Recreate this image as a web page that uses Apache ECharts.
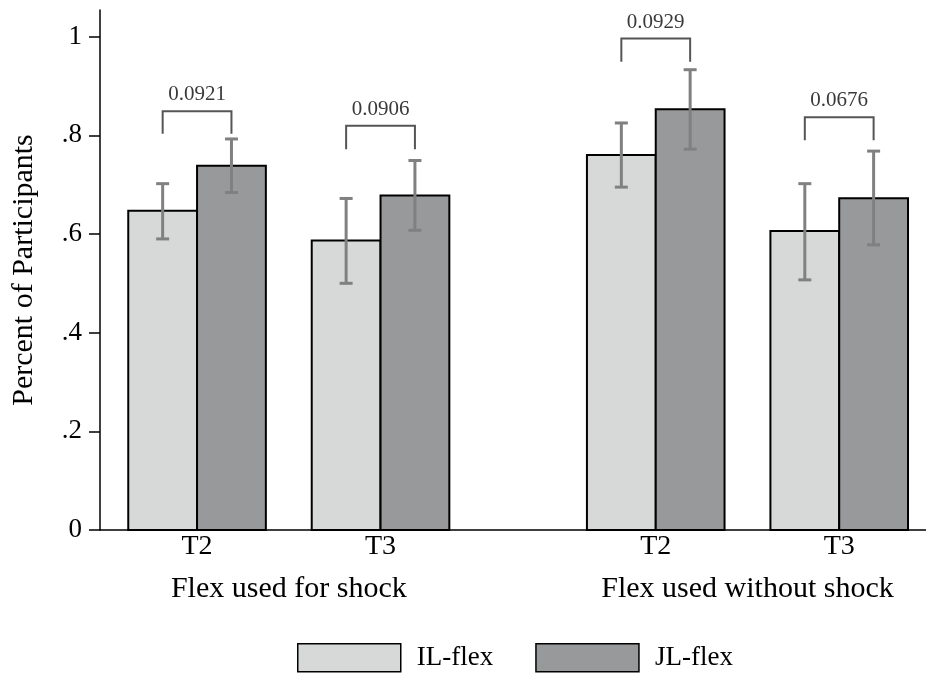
<!DOCTYPE html>
<html>
<head>
<meta charset="utf-8">
<script src="https://cdn.jsdelivr.net/npm/echarts@6/dist/echarts.min.js"></script>
<style>html,body{margin:0;padding:0;background:#fff;}#c{width:926px;height:673px;}</style>
</head>
<body>
<div id="c"></div>
<script>
// ---- data ----
var categories = ['T2', 'T3', 'T2', 'T3'];
var categoryPos = [0, 1, 2.5, 3.5];
var groups = ['Flex used for shock', 'Flex used without shock'];
var groupPos = [0.5, 3];
var seriesNames = ['IL-flex', 'JL-flex'];
var ilValues = [0.647, 0.587, 0.760, 0.606];
var jlValues = [0.7385, 0.678, 0.853, 0.6724];
var ilLow = [0.590, 0.500, 0.695, 0.507];
var ilHigh = [0.702, 0.672, 0.825, 0.702];
var jlLow = [0.684, 0.6075, 0.772, 0.578];
var jlHigh = [0.7926, 0.749, 0.933, 0.768];
var bracketTop = [0.849, 0.8196, 0.996, 0.8365];
var bracketBottom = [0.803, 0.772, 0.949, 0.790];
var bracketLabels = ['0.0921', '0.0906', '0.0929', '0.0676'];
var yTicks = [0, 0.2, 0.4, 0.6, 0.8, 1];
var yTickLabels = ['0', '.2', '.4', '.6', '.8', '1'];

var FONT = "'Liberation Serif', 'Times New Roman', serif";
var BW = 0.375;          // bar width in axis units
var OFF = BW / 2;        // bar centre offset from category
var IL_COLOR = '#d7d8d8';
var JL_COLOR = '#98999b';
var ERR_COLOR = '#808080';

function barRender(offset, fill) {
  return function (params, api) {
    var x = api.value(0) + offset;
    var y = api.value(1);
    var p0 = api.coord([x - BW / 2, y]);
    var p1 = api.coord([x + BW / 2, 0]);
    return {
      type: 'rect',
      shape: { x: p0[0], y: p0[1], width: p1[0] - p0[0], height: p1[1] - p0[1] },
      style: { fill: fill, stroke: '#000', lineWidth: 2 }
    };
  };
}

function errRender(params, api) {
  var x = api.value(0);
  var lo = api.coord([x, api.value(1)]);
  var hi = api.coord([x, api.value(2)]);
  var cap = 6.5;
  var st = { stroke: ERR_COLOR, lineWidth: 3 };
  return {
    type: 'group',
    children: [
      { type: 'line', shape: { x1: lo[0], y1: lo[1], x2: hi[0], y2: hi[1] }, style: st },
      { type: 'line', shape: { x1: lo[0] - cap, y1: lo[1], x2: lo[0] + cap, y2: lo[1] }, style: st },
      { type: 'line', shape: { x1: hi[0] - cap, y1: hi[1], x2: hi[0] + cap, y2: hi[1] }, style: st }
    ]
  };
}

function bracketRender(params, api) {
  var c = api.value(0);
  var top = api.value(1);
  var bot = api.value(2);
  var a = api.coord([c - OFF, top]);
  var b = api.coord([c + OFF, top]);
  var a2 = api.coord([c - OFF, bot]);
  var b2 = api.coord([c + OFF, bot]);
  var st = { stroke: '#555555', lineWidth: 2, fill: null };
  return {
    type: 'group',
    children: [
      { type: 'polyline', shape: { points: [[a2[0], a2[1]], [a[0], a[1]], [b[0], b[1]], [b2[0], b2[1]]] }, style: st },
      { type: 'text', x: (a[0] + b[0]) / 2, y: a[1] - 6,
        style: { text: bracketLabels[params.dataIndex], fill: '#3a3a3a', font: '21px ' + FONT, align: 'center', verticalAlign: 'bottom' } }
    ]
  };
}

var ilData = categoryPos.map(function (x, i) { return [x, ilValues[i]]; });
var jlData = categoryPos.map(function (x, i) { return [x, jlValues[i]]; });
var errData = [];
categoryPos.forEach(function (x, i) {
  errData.push([x - OFF, ilLow[i], ilHigh[i]]);
  errData.push([x + OFF, jlLow[i], jlHigh[i]]);
});
var bracketData = categoryPos.map(function (x, i) { return [x, bracketTop[i], bracketBottom[i]]; });

var chart = echarts.init(document.getElementById('c'), null, { renderer: 'canvas' });
chart.setOption({
  animation: false,
  backgroundColor: '#fff',
  grid: { left: 100, right: 0, top: 10, bottom: 143, containLabel: false, outerBoundsMode: 'none' },
  xAxis: [
    {
      type: 'value', min: -0.529, max: 3.973,
      splitLine: { show: false },
      axisLine: { show: true, onZero: false, lineStyle: { color: '#000', width: 1.5 } },
      axisTick: { show: false },
      axisLabel: {
        customValues: categoryPos,
        formatter: function (v) { var i = categoryPos.indexOf(v); return i >= 0 ? categories[i] : ''; },
        fontFamily: FONT, fontSize: 28, color: '#000', margin: 3
      }
    },
    {
      type: 'value', min: -0.529, max: 3.973, position: 'bottom',
      splitLine: { show: false },
      axisLine: { show: false, onZero: false },
      axisTick: { show: false },
      axisLabel: {
        customValues: groupPos,
        formatter: function (v) { var i = groupPos.indexOf(v); return i >= 0 ? groups[i] : ''; },
        fontFamily: FONT, fontSize: 30, color: '#000', margin: 44
      }
    }
  ],
  yAxis: {
    type: 'value', min: 0, max: 1.054,
    name: 'Percent of Participants', nameLocation: 'middle', nameRotate: 90, nameGap: 61,
    nameTextStyle: { fontFamily: FONT, fontSize: 30, color: '#000' },
    splitLine: { show: false },
    axisLine: { show: true, onZero: false, lineStyle: { color: '#000', width: 1.5 } },
    axisTick: { show: true, customValues: yTicks, length: 11, lineStyle: { color: '#000', width: 1.5 } },
    axisLabel: {
      customValues: yTicks,
      formatter: function (v) { var i = yTicks.indexOf(v); return i >= 0 ? yTickLabels[i] : ''; },
      fontFamily: FONT, fontSize: 27, color: '#000', margin: 18
    }
  },
  legend: {
    left: 297, top: 643, padding: 0,
    itemWidth: 103, itemHeight: 28, itemGap: 42,
    textStyle: { fontFamily: FONT, fontSize: 27, color: '#000', padding: [0, 0, 0, 11] },
    data: [
      { name: seriesNames[0], icon: 'rect', itemStyle: { color: IL_COLOR, borderColor: '#000', borderWidth: 1.5 } },
      { name: seriesNames[1], icon: 'rect', itemStyle: { color: JL_COLOR, borderColor: '#000', borderWidth: 1.5 } }
    ]
  },
  series: [
    { name: seriesNames[0], type: 'custom', renderItem: barRender(-OFF, IL_COLOR), data: ilData,
      encode: { x: 0, y: 1 }, itemStyle: { color: IL_COLOR }, z: 2 },
    { name: seriesNames[1], type: 'custom', renderItem: barRender(OFF, JL_COLOR), data: jlData,
      encode: { x: 0, y: 1 }, itemStyle: { color: JL_COLOR }, z: 2 },
    { name: 'err', type: 'custom', renderItem: errRender, data: errData,
      encode: { x: 0, y: [1, 2] }, z: 3, silent: true },
    { name: 'brackets', type: 'custom', renderItem: bracketRender, data: bracketData,
      encode: { x: 0, y: [1, 2] }, z: 3, silent: true, clip: false }
  ]
});
</script>
</body>
</html>
